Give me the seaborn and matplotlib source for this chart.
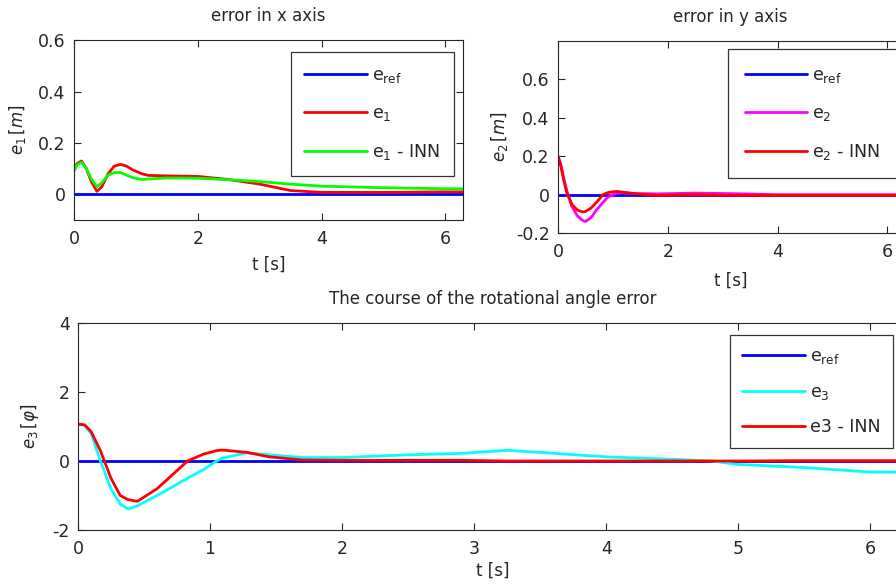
import numpy as np
import pandas as pd
import matplotlib
matplotlib.use("Agg")
import matplotlib.pyplot as plt
import seaborn as sns

sns.set_style("ticks")
plt.rcParams['font.family'] = ['DejaVu Sans']
plt.rcParams['mathtext.fontset'] = 'dejavusans'
plt.rcParams['axes.unicode_minus'] = False

# ---------------- data ----------------
t_end = 6.283

# error in x axis
t1 = [0.0, 0.05, 0.12, 0.2, 0.28, 0.37, 0.45, 0.55, 0.65, 0.75, 0.85, 0.95, 1.1, 1.2, 1.5, 2.0, 2.5, 3.0, 3.5, 4.0, 5.0, 6.0, 6.283]
e1 = [0.10, 0.12, 0.13, 0.10, 0.05, 0.012, 0.03, 0.08, 0.11, 0.117, 0.11, 0.095, 0.08, 0.074, 0.072, 0.07, 0.058, 0.04, 0.015, 0.008, 0.008, 0.01, 0.01]
e1_inn = [0.09, 0.115, 0.125, 0.10, 0.06, 0.03, 0.045, 0.075, 0.085, 0.085, 0.075, 0.065, 0.058, 0.06, 0.064, 0.063, 0.057, 0.05, 0.04, 0.032, 0.026, 0.022, 0.022]

# error in y axis
t2 = [0.0, 0.05, 0.1, 0.16, 0.25, 0.35, 0.45, 0.5, 0.6, 0.7, 0.82, 0.9, 1.0, 1.07, 1.2, 1.4, 1.8, 2.5, 3.0, 3.4, 4.0, 5.0, 6.283]
e2 = [0.20, 0.16, 0.09, 0.02, -0.06, -0.11, -0.135, -0.14, -0.12, -0.08, -0.04, -0.015, 0.0, 0.008, 0.01, 0.006, 0.004, 0.008, 0.006, 0.004, 0.0, 0.0, 0.0]
e2_inn = [0.20, 0.15, 0.08, 0.01, -0.05, -0.08, -0.09, -0.088, -0.07, -0.04, 0.0, 0.01, 0.015, 0.017, 0.012, 0.005, -0.004, 0.0, -0.004, -0.004, -0.004, -0.004, -0.004]

# rotational angle error
t3 = [0.0, 0.05, 0.1, 0.17, 0.25, 0.32, 0.38, 0.45, 0.6, 0.83, 0.95, 1.05, 1.09, 1.28, 1.45, 1.7, 2.0, 2.5, 2.9, 3.25, 3.5, 4.0, 4.5, 4.8, 5.0, 5.5, 6.0, 6.283]
e3 = [1.07, 1.02, 0.8, 0.0, -0.8, -1.25, -1.39, -1.3, -1.0, -0.5, -0.25, 0.0, 0.08, 0.24, 0.18, 0.1, 0.1, 0.18, 0.22, 0.31, 0.25, 0.12, 0.05, 0.0, -0.1, -0.19, -0.32, -0.33]
e3_inn = [1.07, 1.05, 0.85, 0.3, -0.5, -1.0, -1.12, -1.17, -0.8, 0.0, 0.2, 0.3, 0.32, 0.25, 0.12, 0.03, 0.02, 0.02, 0.02, 0.0, 0.0, 0.0, 0.0, 0.0, 0.0, 0.01, 0.01, 0.01]

t_ref = [0.0, t_end]
e_ref = [0.0, 0.0]

BLUE = (0, 0, 1)
RED = (1, 0, 0)
GREEN = (0, 1, 0)
MAGENTA = (1, 0, 1)
CYAN = (0, 1, 1)
LW = 2.0
FS = 12

fig = plt.figure(figsize=(8.96, 5.87), dpi=100)
ax1 = fig.add_axes([0.0826, 0.625, 0.434, 0.3066])
ax2 = fig.add_axes([0.6228, 0.603, 0.385, 0.327])
ax3 = fig.add_axes([0.087, 0.0971, 0.926, 0.3526])


def draw(ax, series, labels, colors):
    for (tt, yy), lab, col in zip(series, labels, colors):
        df = pd.DataFrame({"t": tt, "y": yy})
        sns.lineplot(data=df, x="t", y="y", ax=ax, color=col, lw=LW, label=lab,
                     estimator=None, sort=False)


def style(ax, xlim, ylim, xticks, yticks, yticklabels=None):
    ax.set_xlim(*xlim)
    ax.set_ylim(*ylim)
    ax.set_xticks(xticks)
    ax.set_yticks(yticks)
    if yticklabels is not None:
        ax.set_yticklabels(yticklabels)
    ax.tick_params(direction='in', top=True, right=True, length=5, width=0.8,
                   labelsize=12.5, colors='#262626')
    ax.tick_params(axis='x', pad=7)
    ax.tick_params(axis='y', pad=6)
    for s in ax.spines.values():
        s.set_color('#262626')
        s.set_linewidth(0.8)


def legend(ax, loc, anchor, spacing=1.1, bpad=0.8):
    leg = ax.legend(loc=loc, bbox_to_anchor=anchor, borderaxespad=0,
                    frameon=True, fancybox=False, fontsize=12.5,
                    handlelength=3.6, handletextpad=0.3, labelspacing=spacing,
                    borderpad=bpad)
    leg.get_frame().set_edgecolor('black')
    leg.get_frame().set_linewidth(0.9)
    return leg


# ---- top-left ----
draw(ax1,
     [(t_ref, e_ref), (t1, e1), (t1, e1_inn)],
     [r'$\mathregular{e_{ref}}$', r'$\mathregular{e_1}$', r'$\mathregular{e_1}$ - INN'],
     [BLUE, RED, GREEN])
style(ax1, (0, t_end), (-0.1, 0.6), [0, 2, 4, 6], [0, 0.2, 0.4, 0.6], ['0', '0.2', '0.4', '0.6'])
ax1.set_title('error in x axis', fontsize=FS, pad=14)
ax1.set_xlabel('t [s]', fontsize=FS, labelpad=6)
ax1.set_ylabel(r'$e_1\,[m]$', fontsize=FS, labelpad=7)
legend(ax1, 'upper right', (0.977, 0.933))

# ---- top-right ----
draw(ax2,
     [(t_ref, e_ref), (t2, e2), (t2, e2_inn)],
     [r'$\mathregular{e_{ref}}$', r'$\mathregular{e_2}$', r'$\mathregular{e_2}$ - INN'],
     [BLUE, MAGENTA, RED])
style(ax2, (0, t_end), (-0.2, 0.8), [0, 2, 4, 6], [-0.2, 0, 0.2, 0.4, 0.6],
      ['-0.2', '0', '0.2', '0.4', '0.6'])
ax2.set_title('error in y axis', fontsize=FS, pad=14)
ax2.set_xlabel('t [s]', fontsize=FS, labelpad=8)
ax2.set_ylabel(r'$e_2\,[m]$', fontsize=FS, labelpad=4)
legend(ax2, 'upper left', (0.493, 0.958), bpad=0.95)

# ---- bottom ----
draw(ax3,
     [(t_ref, e_ref), (t3, e3), (t3, e3_inn)],
     [r'$\mathregular{e_{ref}}$', r'$\mathregular{e_3}$', 'e3 - INN'],
     [BLUE, CYAN, RED])
style(ax3, (0, t_end), (-2, 4), [0, 1, 2, 3, 4, 5, 6], [-2, 0, 2, 4])
ax3.set_title('The course of the rotational angle error', fontsize=FS, pad=14)
ax3.set_xlabel('t [s]', fontsize=FS, labelpad=3)
ax3.set_ylabel(r'$e_3\,[\varphi]$', fontsize=FS, labelpad=8)
legend(ax3, 'upper left', (0.786, 0.942), spacing=0.95, bpad=0.7)

fig.savefig('out.png', dpi=100)
